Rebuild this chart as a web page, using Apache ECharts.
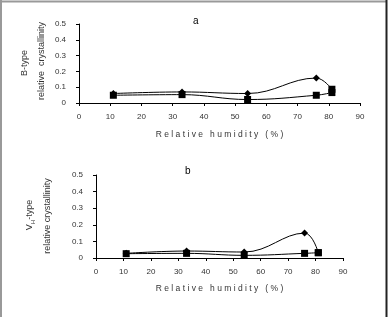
<!DOCTYPE html>
<html lang="en">
<head>
  <meta charset="UTF-8">
  <title>Relative crystallinity vs humidity</title>
  <script src="https://cdn.jsdelivr.net/npm/echarts@6.0.0/dist/echarts.min.js"></script>
  <style>
    html, body { margin: 0; padding: 0; background: #fff; }
    #chart { width: 391px; height: 317px; }
  </style>
</head>
<body>
  <div id="chart"></div>
<script>
  // relative humidity (%) where samples were measured
  const humidity = [11, 33, 54, 76, 81]
  // panel a: B-type
  const aDiamond = [0.06, 0.07, 0.06, 0.158, 0.087]
  const aSquare = [0.049, 0.053, 0.022, 0.049, 0.066]
  // panel b: VH-type
  const bDiamond = [0.028, 0.042, 0.036, 0.15, 0.032]
  const bSquare = [0.026, 0.028, 0.016, 0.028, 0.032]
  const yTickLabels = ['0', '0.1', '0.2', '0.3', '0.4', '0.5']
  const xName = 'R e l a t i v e   h u m i d i t y   ( % )'

  const font = 'Liberation Sans, Arial, sans-serif'
  const txt = '#333'

  function pts(arr, lastRect){
    return humidity.map((h,i) => {
      const p = { value: [h, arr[i]] }
      if (lastRect && i === arr.length-1) p.symbol = 'rect'
      return p
    })
  }

  function xAxis(idx, labelMargin, nameGap){
    return {
      type: 'value', gridIndex: idx, min: 0, max: 90, interval: 10,
      name: xName, nameLocation: 'middle', nameGap: nameGap,
      nameTextStyle: { fontFamily: font, fontSize: 8.5, color: txt },
      axisLine: { lineStyle: { color: '#000', width: 1 } },
      axisTick: { show: true, inside: false, length: 3, lineStyle: { color: '#000' } },
      axisLabel: { fontFamily: font, fontSize: 8, color: txt, margin: labelMargin },
      splitLine: { show: false }
    }
  }
  function yAxis(idx){
    return {
      type: 'value', gridIndex: idx, min: 0, max: 0.5, interval: 0.1,
      axisLine: { show: true, lineStyle: { color: '#000', width: 1 } },
      axisTick: { show: true, inside: false, length: 3, lineStyle: { color: '#000' } },
      axisLabel: { fontFamily: font, fontSize: 8, color: txt, margin: 13,
        formatter: v => yTickLabels[Math.round(v*10)] },
      splitLine: { show: false }
    }
  }
  function line(idx, arr, sym, size, lastRect){
    return {
      type: 'line', xAxisIndex: idx, yAxisIndex: idx, smooth: 0.4,
      data: pts(arr, lastRect), symbol: sym, symbolSize: size,
      itemStyle: { color: '#000' }, lineStyle: { color: '#000', width: 1 },
      animation: false
    }
  }
  function vText(x, y, text, rich){
    return { type: 'text', x: x, y: y, rotation: Math.PI/2,
      style: { text: text, align: 'center', verticalAlign: 'middle',
        fontFamily: font, fontSize: 9, fill: txt, rich: rich } }
  }

  const myChart = echarts.init(document.getElementById('chart'), null, { renderer: 'canvas' })
  const option = {
    backgroundColor: '#fff',
    animation: false,
    title: [
      { text: 'a', left: 188, top: 11, textStyle: { fontFamily: font, fontSize: 10, fontWeight: 'normal', color: '#000' } },
      { text: 'b', left: 180, top: 161, textStyle: { fontFamily: font, fontSize: 10, fontWeight: 'normal', color: '#000' } }
    ],
    grid: [
      { left: 79, right: 31, top: 24, height: 79 },
      { left: 96, right: 48, top: 175, height: 83 }
    ],
    xAxis: [xAxis(0, 10, 27), xAxis(1, 10, 26)],
    yAxis: [yAxis(0), yAxis(1)],
    series: [
      line(0, aSquare, 'rect', 7, false),
      line(0, aDiamond, 'diamond', 7, true),
      line(1, bSquare, 'rect', 7, false),
      line(1, bDiamond, 'diamond', 7, true)
    ],
    graphic: [
      { type: 'line', shape: { x1: 1, y1: 0, x2: 1, y2: 317 }, style: { stroke: '#999', lineWidth: 2 } },
      { type: 'line', shape: { x1: 0, y1: 1.5, x2: 387, y2: 1.5 }, style: { stroke: '#999', lineWidth: 2 } },
      { type: 'line', shape: { x1: 386.5, y1: 0, x2: 386.5, y2: 317 }, style: { stroke: '#222', lineWidth: 2 } },
      vText(25, 63, 'B-type'),
      vText(42, 61, 'relative  crystallinity'),
      vText(30, 215, '{n|V}{s|H}{n|-type}', {
        n: { fontFamily: font, fontSize: 9, lineHeight: 12, fill: txt, verticalAlign: 'middle' },
        s: { fontFamily: font, fontSize: 6, lineHeight: 6, fill: txt, verticalAlign: 'bottom' }
      }),
      vText(48, 216, 'relative crystallinity')
    ]
  }
  myChart.setOption(option)
</script>
</body>
</html>
